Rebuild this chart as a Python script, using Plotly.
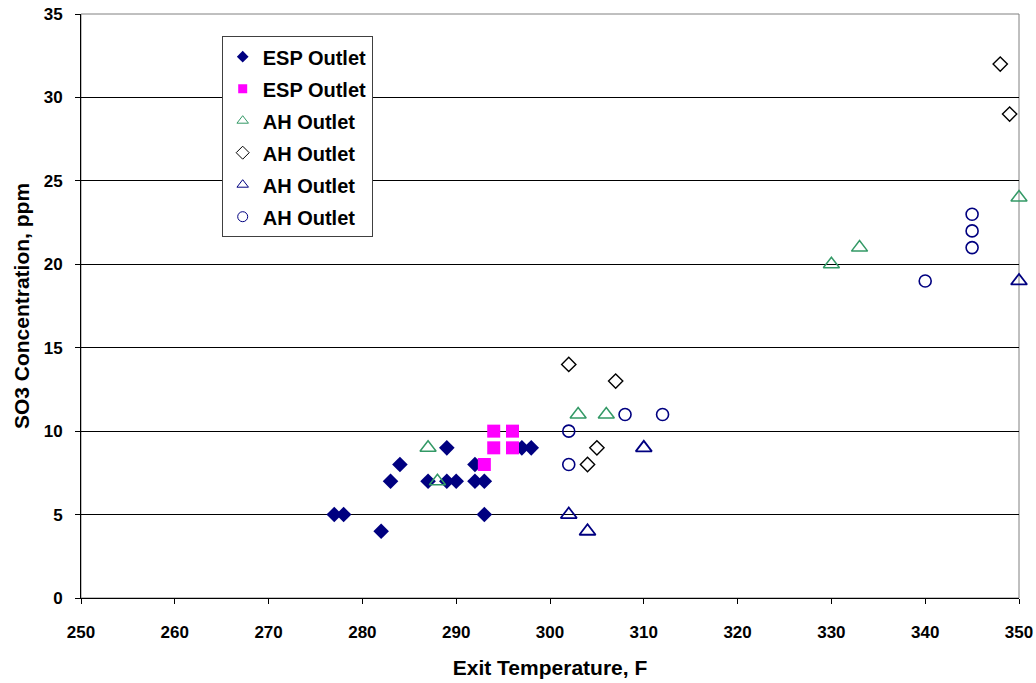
import plotly.graph_objects as go

# ESP Outlet (filled navy diamonds)
esp1_x = [277, 278, 282, 283, 284, 287, 289, 289, 290, 292, 292, 293, 293, 297, 298]
esp1_y = [5, 5, 4, 7, 8, 7, 9, 7, 7, 8, 7, 7, 5, 9, 9]
# ESP Outlet (magenta squares)
esp2_x = [293, 294, 294, 296, 296]
esp2_y = [8, 9, 10, 9, 10]
# AH Outlet (green open triangles)
ah1_x = [287, 288, 303, 306, 330, 333, 350]
ah1_y = [9, 7, 11, 11, 20, 21, 24]
# AH Outlet (black open diamonds)
ah2_x = [302, 307, 305, 304, 348, 349]
ah2_y = [14, 13, 9, 8, 32, 29]
# AH Outlet (navy open triangles)
ah3_x = [302, 304, 310, 350]
ah3_y = [5, 4, 9, 19]
# AH Outlet (navy open circles)
ah4_x = [302, 302, 308, 312, 340, 345, 345, 345]
ah4_y = [10, 8, 11, 11, 19, 21, 22, 23]

x_ticks = [250, 260, 270, 280, 290, 300, 310, 320, 330, 340, 350]
y_ticks = [0, 5, 10, 15, 20, 25, 30, 35]

fig = go.Figure()
series = [
    ("ESP Outlet", esp1_x, esp1_y, "diamond", 12, "#000080", 0),
    ("ESP Outlet", esp2_x, esp2_y, "square", 13, "#FF00FF", 0),
    ("AH Outlet", ah1_x, ah1_y, "triangle-up-open", 14, "#339966", 1.5),
    ("AH Outlet", ah2_x, ah2_y, "diamond-open", 11, "#000000", 1.4),
    ("AH Outlet", ah3_x, ah3_y, "triangle-up-open", 14, "#000080", 1.8),
    ("AH Outlet", ah4_x, ah4_y, "circle-open", 12, "#000080", 1.6),
]
for i, (name, xs, ys, sym, size, col, lw) in enumerate(series):
    fig.add_trace(go.Scatter(x=xs, y=ys, mode="markers", name=name, showlegend=False,
                             legendgroup=f"g{i}", cliponaxis=False,
                             marker=dict(symbol=sym, size=size, color=col,
                                         line=dict(width=lw, color=col))))
    # legend entry with a small marker, as in the original legend
    fig.add_trace(go.Scatter(x=[None], y=[None], mode="markers", name=f"<b>{name}</b>",
                             legendgroup=f"g{i}", showlegend=True,
                             marker=dict(symbol=sym, size=9 if "open" not in sym else 10, color=col,
                                         line=dict(width=1 if lw else 0, color=col))))

FONT = "Liberation Sans, Arial, sans-serif"
fig.update_layout(
    width=1036, height=683,
    margin=dict(l=81, r=17, t=14, b=85),
    paper_bgcolor="white", plot_bgcolor="white",
    font=dict(family=FONT, size=17, color="black"),
    showlegend=True,
    legend=dict(x=0.150, y=0.962, xanchor="left", yanchor="top",
                bgcolor="white", bordercolor="#404040", borderwidth=1,
                font=dict(family=FONT, size=20, color="black"),
                traceorder="grouped", tracegroupgap=3,
                itemsizing="trace", itemwidth=30),
    shapes=[dict(type="rect", xref="paper", yref="paper", x0=0, y0=0, x1=1, y1=1,
                 line=dict(color="#808080", width=1), layer="below")],
)
fig.update_xaxes(range=[250, 350], tickvals=x_ticks, ticktext=[f"<b>{v}</b>" for v in x_ticks],
                 ticks="outside", ticklen=5, ticklabelstandoff=14,
                 tickcolor="black", showline=True, linecolor="black", linewidth=1,
                 showgrid=False, zeroline=False, automargin=False,
                 tickfont=dict(family=FONT, size=17, color="black"),
                 title=dict(text="<b>Exit Temperature, F</b>", font=dict(family=FONT, size=21, color="black"), standoff=18))
fig.update_yaxes(range=[0, 35], tickvals=y_ticks, ticktext=[f"<b>{v}</b>" for v in y_ticks],
                 ticks="outside", ticklen=5, ticklabelstandoff=9,
                 tickcolor="black", showline=True, linecolor="black", linewidth=1,
                 showgrid=True, gridcolor="black", gridwidth=1, zeroline=False, automargin=False,
                 tickfont=dict(family=FONT, size=17, color="black"),
                 title=dict(text="<b>SO3 Concentration, ppm</b>", font=dict(family=FONT, size=21, color="black"), standoff=8))

fig.write_html("out.html")
